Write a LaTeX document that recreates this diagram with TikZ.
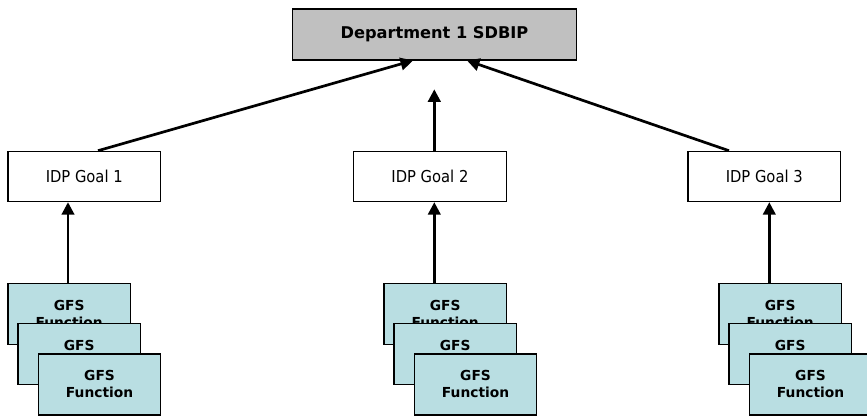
\documentclass[tikz,border=0pt]{standalone}
\usepackage{fontspec}
\setmainfont{DejaVu Sans}
\newfontfamily\condfont{DejaVu Sans Condensed}
\usetikzlibrary{arrows.meta,calc}

\definecolor{topgray}{RGB}{192,192,192}
\definecolor{fncyan}{RGB}{185,222,226}

\begin{document}
\begin{tikzpicture}[x=1pt,y=-1pt,
  box/.style={draw=black, line width=1.2pt, inner sep=0pt, anchor=north west},
  topbox/.style={box, fill=topgray, minimum width=284.3pt, minimum height=51pt,
    font=\fontsize{16.2}{19}\selectfont\bfseries},
  goalbox/.style={box, fill=white, minimum width=152.7pt, minimum height=50.3pt,
    font=\condfont\fontsize{16.4}{19}\selectfont},
  fnbox/.style={box, fill=fncyan, minimum width=122.5pt, minimum height=61pt,
    align=center, font=\fontsize{13.8}{17}\selectfont\bfseries},
  arr/.style={line width=2.7pt, -{Triangle[length=12.5pt,width=12.5pt]}}
]
\useasboundingbox (0,0) rectangle (867,416);

% top level
\node[topbox] (top) at (291.7,8.3) {Department 1 SDBIP};

% goals
\node[goalbox] (g1) at (7.3,150.7) {IDP Goal 1};
\node[goalbox] (g2) at (353,150.7) {IDP Goal 2};
\node[goalbox] (g3) at (687.3,150.7) {IDP Goal 3};

% stacked function cards under each goal
\foreach \i/\L in {1/7.3, 2/383.3, 3/718.3}{
  \node[fnbox] (f\i a) at (\L,282.7) {GFS\\Function};
  \node[fnbox] (f\i b) at (\L+10,322.7) {GFS\\Function};
  \node[fnbox] (f\i c) at (\L+30.4,353.3) {GFS\\Function};
}

% arrows from the cards to the goals
\coordinate (b1) at ($(f1a.north west)+(60.7,0)$);
\coordinate (b2) at ($(f2a.north west)+(51,0)$);
\coordinate (b3) at ($(f3a.north west)+(51,0)$);
\draw[arr] (b1) -- (b1 |- g1.south);
\draw[arr] (b2) -- (b2 |- g2.south);
\draw[arr] (b3) -- (b3 |- g3.south);

% arrows from the goals to the department
\draw[arr] ($(g1.north west)+(90.7,0)$) -- ($(top.south west)+(121.3,0)$);
\coordinate (midtip) at (434.3,89.3);
\draw[arr] (g2.north west -| midtip) -- (midtip);
\draw[arr] ($(g3.north west)+(41.7,0)$) -- ($(top.south west)+(175.3,0)$);
\end{tikzpicture}
\end{document}
